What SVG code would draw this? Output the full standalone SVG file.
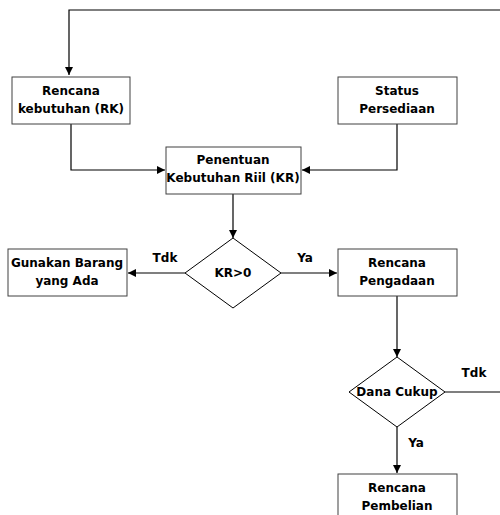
<svg xmlns="http://www.w3.org/2000/svg" width="500" height="515" viewBox="0 0 500 515">
<style>
.box{fill:#fff;stroke:#404040;stroke-width:1}
.dia{fill:#fff;stroke:#000;stroke-width:1}
.ln{fill:none;stroke:#000;stroke-width:1.2}
text{font-family:"DejaVu Sans",sans-serif;font-weight:bold;font-size:12px;fill:#000;text-anchor:middle}
</style>
<defs>
<marker id="ah" viewBox="0 0 10 10" refX="10" refY="5" markerWidth="8" markerHeight="8" markerUnits="userSpaceOnUse" orient="auto">
<path d="M0,0 L10,5 L0,10 Z" fill="#000"/>
</marker>
</defs>
<rect width="500" height="515" fill="#fff"/>
<g id="connectors">
<polyline class="ln" points="500,10 69,10 69,75" marker-end="url(#ah)"/>
<polyline class="ln" points="71,124 71,170 165,170" marker-end="url(#ah)"/>
<polyline class="ln" points="397,124 397,170 302,170" marker-end="url(#ah)"/>
<line class="ln" x1="233" y1="194" x2="233" y2="238" marker-end="url(#ah)"/>
<line class="ln" x1="185" y1="273" x2="128" y2="273" marker-end="url(#ah)"/>
<line class="ln" x1="281" y1="273" x2="337" y2="273" marker-end="url(#ah)"/>
<line class="ln" x1="397" y1="296" x2="397" y2="357" marker-end="url(#ah)"/>
<line class="ln" x1="445" y1="392" x2="500" y2="392"/>
<line class="ln" x1="397" y1="427" x2="397" y2="473" marker-end="url(#ah)"/>
<text x="165" y="262">Tdk</text>
<text x="305" y="262">Ya</text>
<text x="474" y="377">Tdk</text>
<text x="416" y="447">Ya</text>
</g>
<g id="rk">
<rect class="box" x="12" y="77" width="118" height="47"/>
<text x="71" y="95">Rencana</text>
<text x="71" y="113">kebutuhan (RK)</text>
</g>
<g id="status">
<rect class="box" x="338" y="77" width="119" height="47"/>
<text x="397" y="95">Status</text>
<text x="397" y="113">Persediaan</text>
</g>
<g id="penentuan">
<rect class="box" x="166" y="147" width="135" height="47"/>
<text x="233" y="164">Penentuan</text>
<text x="233" y="182">Kebutuhan Riil (KR)</text>
</g>
<g id="kr0">
<polygon class="dia" points="233,238 281,273 233,308 185,273"/>
<text x="233" y="277">KR&gt;0</text>
</g>
<g id="gunakan">
<rect class="box" x="8" y="249" width="119" height="47"/>
<text x="67" y="267">Gunakan Barang</text>
<text x="67" y="285">yang Ada</text>
</g>
<g id="pengadaan">
<rect class="box" x="338" y="249" width="119" height="47"/>
<text x="397" y="267">Rencana</text>
<text x="397" y="285">Pengadaan</text>
</g>
<g id="dana">
<polygon class="dia" points="397,357 445,392 397,427 349,392"/>
<text x="397" y="396">Dana Cukup</text>
</g>
<g id="pembelian">
<rect class="box" x="338" y="474" width="119" height="50"/>
<text x="397" y="492">Rencana</text>
<text x="397" y="510">Pembelian</text>
</g>
</svg>
